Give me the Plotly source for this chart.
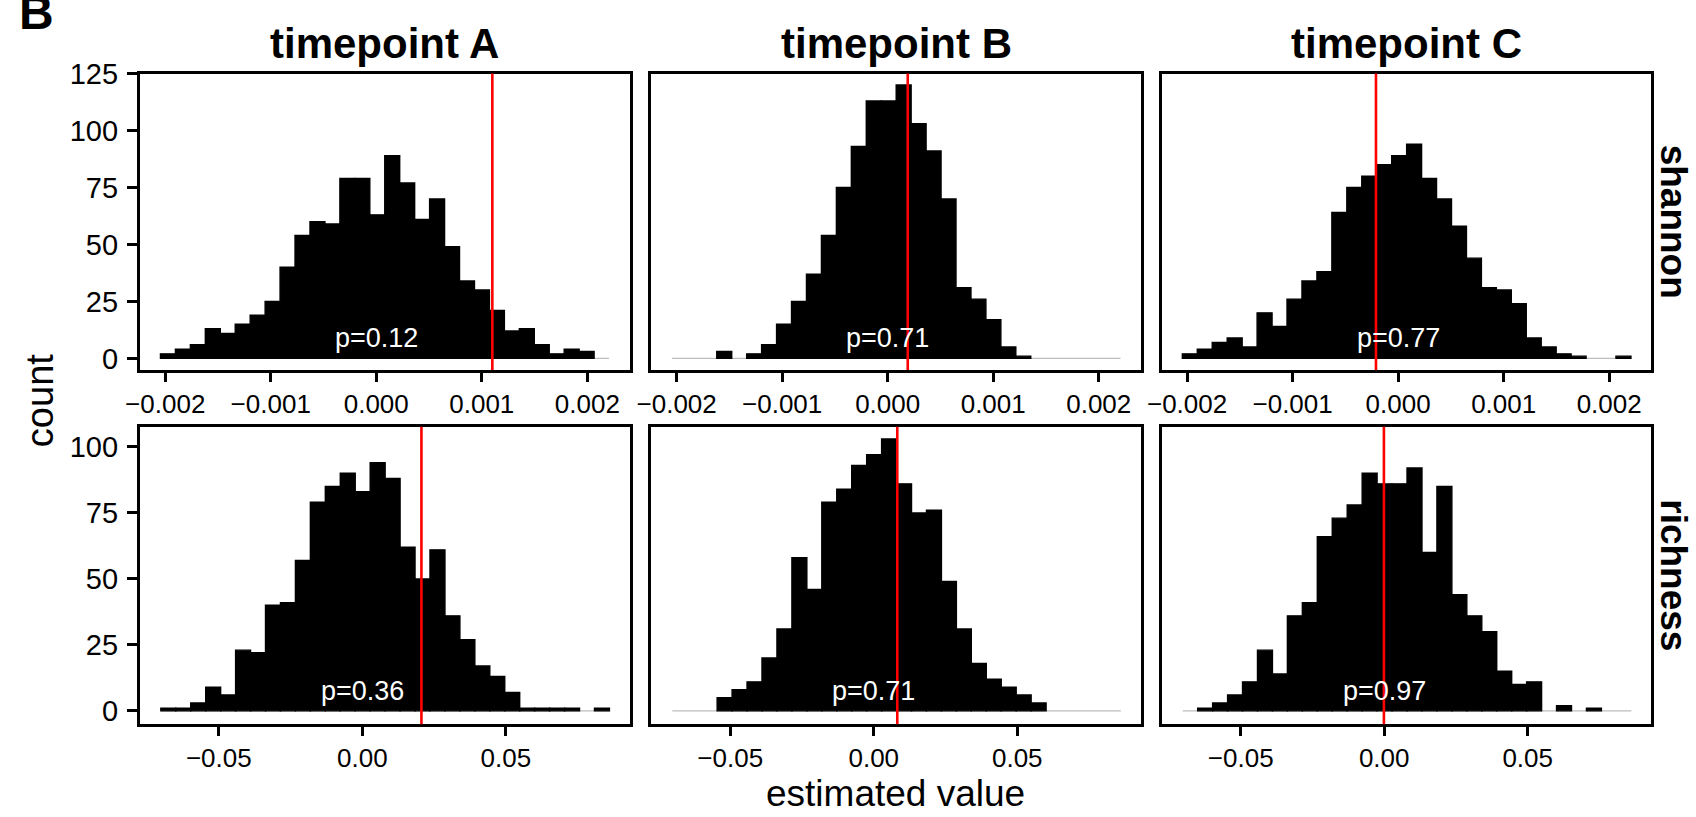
import numpy as np
import plotly.graph_objects as go

# ---------------- data ----------------
timepoints = ["timepoint A", "timepoint B", "timepoint C"]
metrics = ["shannon", "richness"]

# histogram bins (30 bins per panel), left edge of first bin and bin width
shannon_bin_start = -0.002045
shannon_bin_width = 0.0001417
richness_bin_start = -0.0702
richness_bin_width = 0.00521

shannon_A = [2, 4, 6, 13, 11, 15, 19, 25, 40, 54, 60, 59, 79, 79, 63,
             89, 77, 61, 70, 49, 34, 30, 21, 12, 13, 6, 2, 4, 3, 0]
shannon_B = [0, 0, 0, 3, 0, 2, 6, 15, 25, 37, 54, 75, 93, 113, 113,
             120, 103, 91, 70, 31, 26, 17, 5, 1, 0, 0, 0, 0, 0, 0]
shannon_C = [2, 4, 7, 9, 5, 20, 14, 26, 34, 38, 64, 75, 80, 85, 89,
             94, 79, 70, 58, 44, 31, 30, 24, 9, 5, 2, 1, 0, 0, 1]

richness_A = [1, 1, 3, 9, 6, 23, 22, 40, 41, 57, 79, 85, 90, 83, 94,
              88, 62, 50, 61, 36, 27, 17, 13, 7, 1, 1, 1, 1, 0, 1]
richness_B = [0, 0, 0, 5, 8, 11, 20, 31, 58, 46, 79, 84, 93, 97, 103,
              86, 75, 76, 49, 31, 18, 12, 9, 6, 3, 0, 0, 0, 0, 0]
richness_C = [0, 1, 3, 6, 11, 23, 14, 36, 41, 66, 73, 78, 90, 86, 86,
              92, 60, 85, 44, 36, 30, 15, 10, 11, 0, 2, 0, 1, 0, 0]

observed_shannon = [0.0011, 0.00019, -0.00021]
observed_richness = [0.0206, 0.0082, -0.0001]
p_shannon = ["p=0.12", "p=0.71", "p=0.77"]
p_richness = ["p=0.36", "p=0.71", "p=0.97"]

shannon_tickvals = [-0.002, -0.001, 0.0, 0.001, 0.002]
shannon_ticktext = ["\u22120.002", "\u22120.001", "0.000", "0.001", "0.002"]
richness_tickvals = [-0.05, 0.0, 0.05]
richness_ticktext = ["\u22120.05", "0.00", "0.05"]
shannon_count_ticks = [0, 25, 50, 75, 100, 125]
richness_count_ticks = [0, 25, 50, 75, 100]

x_title = "estimated value"
y_title = "count"
panel_tag = "B"

# ---------------- layout geometry ----------------
W, H = 1696, 817
FONT = "Liberation Sans, Arial, Helvetica, sans-serif"
col_px = [(126, 620), (642, 1136), (1157, 1651)]
row_px = [(59, 363), (421, 726)]
x_ranges = [[-0.00224, 0.0024], [-0.0775, 0.0931]]
y_ranges = [[-5.14, 125.0], [-5.06, 107.65]]


def xdom(c):
    a, b = col_px[c]
    return [a / W, b / W]


def ydom(r):
    a, b = row_px[r]
    return [1 - b / H, 1 - a / H]


def suffix(k):
    return "" if k == 1 else str(k)


rows = [
    dict(counts=[shannon_A, shannon_B, shannon_C], start=shannon_bin_start,
         width=shannon_bin_width, obs=observed_shannon, p=p_shannon,
         tv=shannon_tickvals, tt=shannon_ticktext, yt=shannon_count_ticks),
    dict(counts=[richness_A, richness_B, richness_C], start=richness_bin_start,
         width=richness_bin_width, obs=observed_richness, p=p_richness,
         tv=richness_tickvals, tt=richness_ticktext, yt=richness_count_ticks),
]

fig = go.Figure()
layout = dict(
    width=W, height=H,
    margin=dict(l=0, r=0, t=0, b=0),
    paper_bgcolor="white", plot_bgcolor="white",
    showlegend=False,
    font=dict(family=FONT, color="black"),
    shapes=[], annotations=[],
)

for r, row in enumerate(rows):
    for c in range(3):
        k = r * 3 + c + 1
        s = suffix(k)
        counts = np.array(row["counts"][c], dtype=float)
        n = len(counts)
        edges = row["start"] + row["width"] * np.arange(n + 1)
        centers = edges[:-1] + row["width"] / 2
        shown = [v if v > 0 else None for v in counts]
        xa, ya = f"x{s}", f"y{s}"

        fig.add_trace(go.Bar(
            x=centers, y=shown, width=row["width"],
            marker=dict(color="black", line=dict(width=1.4, color="black")),
            xaxis=xa, yaxis=ya, hoverinfo="x+y",
        ))

        # grey baseline under the bars
        layout["shapes"].append(dict(
            type="line", xref=xa, yref=ya, x0=edges[0], x1=edges[-1], y0=0, y1=0,
            line=dict(color="#bdbdbd", width=1.2), layer="below"))
        # observed value
        layout["shapes"].append(dict(
            type="line", xref=xa, yref=f"{ya} domain", x0=row["obs"][c], x1=row["obs"][c],
            y0=0, y1=1, line=dict(color="#ff0000", width=2.6), layer="above"))
        # p-value text
        layout["annotations"].append(dict(
            x=0, y=0, xref=xa, yref=ya, text=row["p"][c], showarrow=False,
            yshift=20, yanchor="middle", xanchor="center",
            font=dict(family=FONT, size=27, color="white")))

        axis_common = dict(showgrid=False, zeroline=False, showline=True,
                           linecolor="black", linewidth=3, mirror=True,
                           ticks="outside", tickwidth=2.5, tickcolor="black")
        layout[f"xaxis{s}"] = dict(
            domain=xdom(c), anchor=ya, range=x_ranges[r],
            tickmode="array", tickvals=row["tv"], ticktext=row["tt"],
            ticklen=9, tickfont=dict(family=FONT, size=26, color="black"),
            **axis_common)
        yax = dict(domain=ydom(r), anchor=xa, range=y_ranges[r],
                   tickmode="array", tickvals=row["yt"],
                   ticktext=[str(v) for v in row["yt"]],
                   ticklen=10, ticklabelstandoff=3,
                   tickfont=dict(family=FONT, size=29, color="black"),
                   **axis_common)
        if c > 0:
            yax["showticklabels"] = False
            yax["ticks"] = ""
        layout[f"yaxis{s}"] = yax

# column titles
for c, tp in enumerate(timepoints):
    a, b = xdom(c)
    layout["annotations"].append(dict(
        x=(a + b) / 2, y=1 - 28 / H, xref="paper", yref="paper",
        text=f"<b>{tp}</b>", showarrow=False, xanchor="center", yanchor="middle",
        font=dict(family=FONT, size=42, color="black")))

# row strips
for r, m in enumerate(metrics):
    a, b = ydom(r)
    layout["annotations"].append(dict(
        x=1673 / W, y=(a + b) / 2, xref="paper", yref="paper",
        text=f"<b>{m}</b>", showarrow=False, textangle=90,
        xanchor="center", yanchor="middle",
        font=dict(family=FONT, size=37, color="black")))

# axis titles
layout["annotations"].append(dict(
    x=26 / W, y=1 - 394 / H, xref="paper", yref="paper", text=y_title,
    showarrow=False, textangle=-90, xanchor="center", yanchor="middle",
    font=dict(family=FONT, size=38, color="black")))
layout["annotations"].append(dict(
    x=888 / W, y=1 - 797 / H, xref="paper", yref="paper", text=x_title,
    showarrow=False, xanchor="center", yanchor="middle",
    font=dict(family=FONT, size=37, color="black")))
# panel tag (cut off at top, as in the source figure)
layout["annotations"].append(dict(
    x=2 / W, y=1 + 4 / H, xref="paper", yref="paper", text=f"<b>{panel_tag}</b>",
    showarrow=False, xanchor="left", yanchor="middle",
    font=dict(family=FONT, size=48, color="black")))

fig.update_layout(**layout)
fig.write_html("out.html", post_script="document.body.style.margin='0';")
